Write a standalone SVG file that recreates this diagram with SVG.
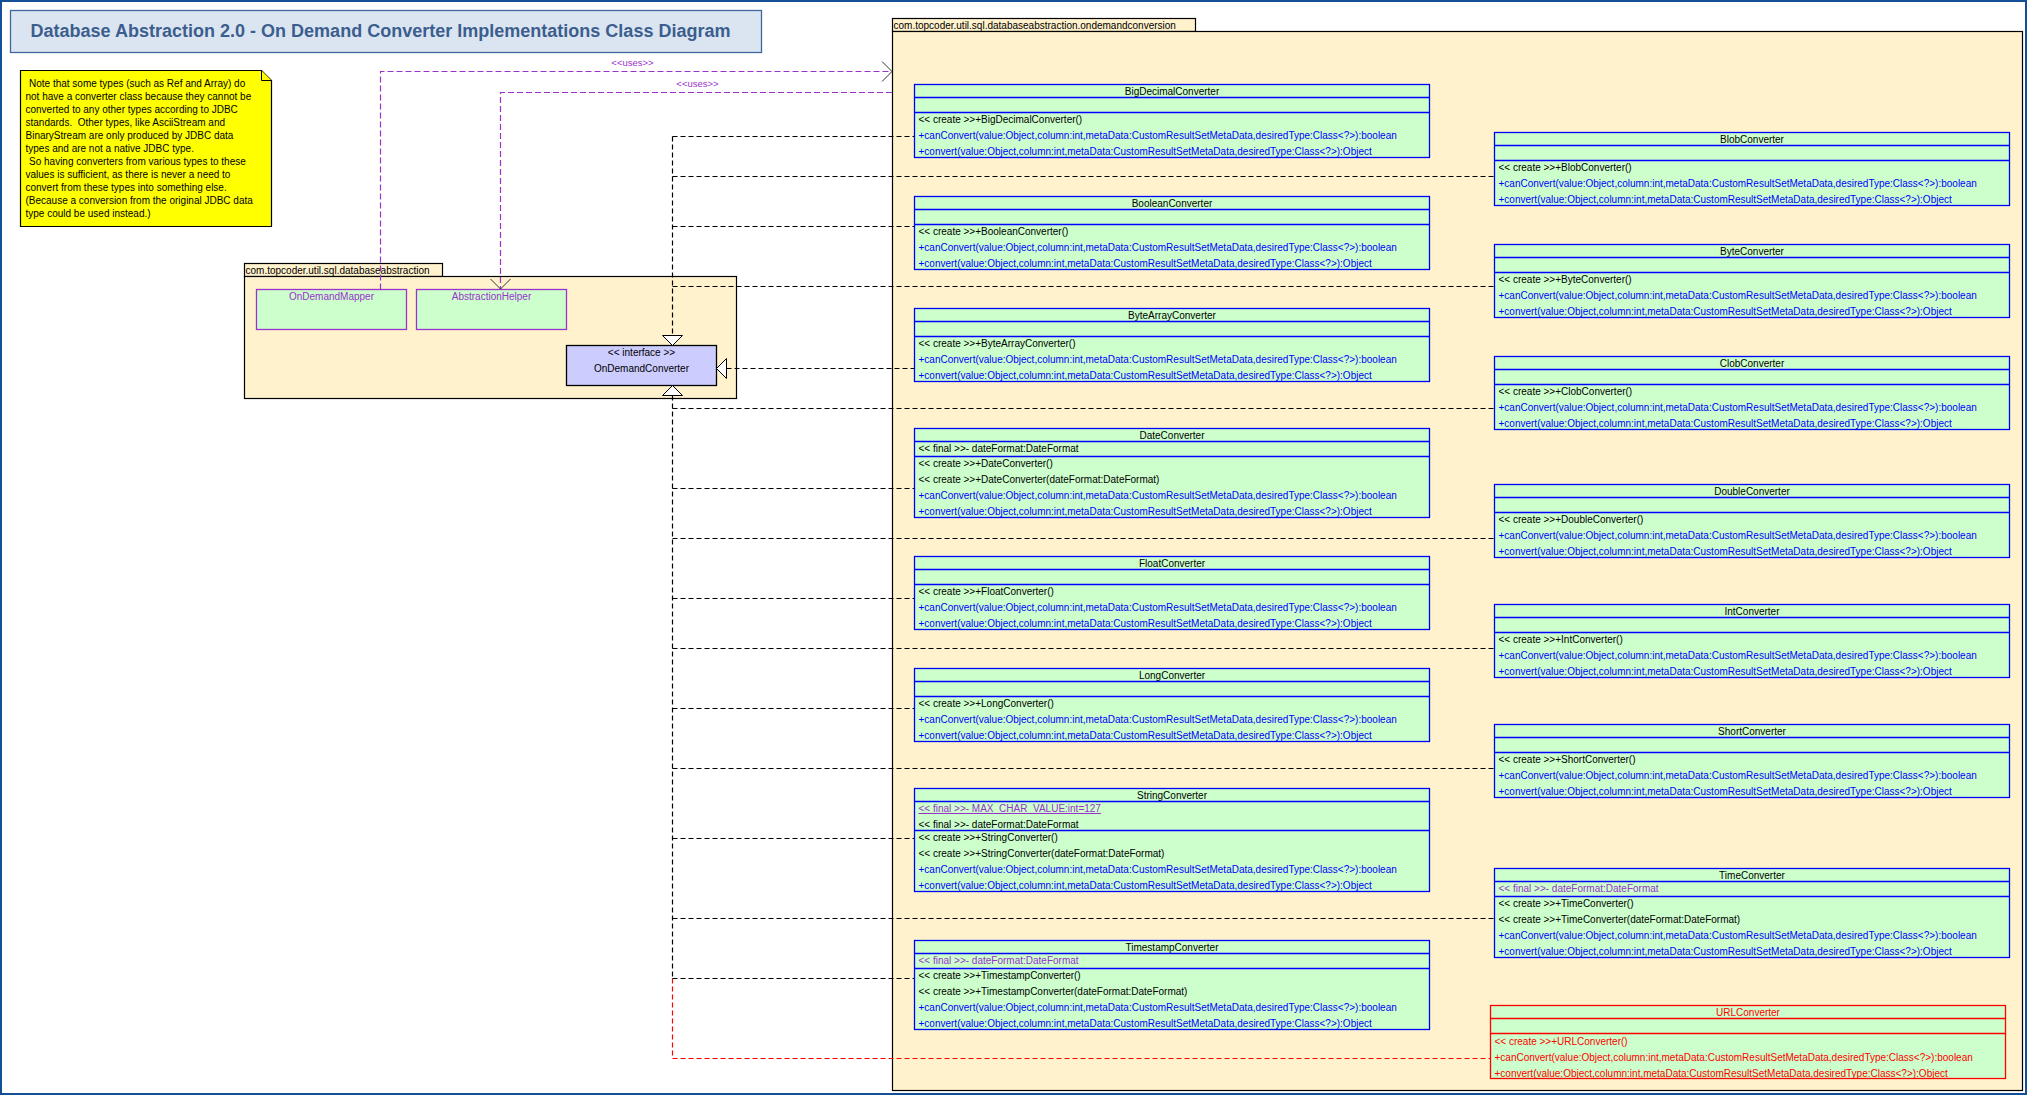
<svg xmlns="http://www.w3.org/2000/svg" width="2027" height="1095" viewBox="0 0 2027 1095">
<style>
text{font-family:"Liberation Sans",Arial,Helvetica,sans-serif;font-size:10px;fill:#000}
.nm{text-anchor:middle}
.op{fill:#0000ff}
.pu{fill:#9933cc}
.rd{fill:#ff0000}
.cls{fill:#ccffcc;stroke:#0000ff;stroke-width:1.3}
.clsr{fill:#ccffcc;stroke:#ff0000;stroke-width:1.3}
.sep{stroke:#0000ff;stroke-width:1.3}
.sepr{stroke:#ff0000;stroke-width:1.3}
.pkg{fill:#fff2cc;stroke:#000;stroke-width:1.2}
.dep{fill:none;stroke:#000;stroke-width:1.2;stroke-dasharray:5,3}
.depr{fill:none;stroke:#ff0000;stroke-width:1.2;stroke-dasharray:5,3}
.use{fill:none;stroke:#9933cc;stroke-width:1.2;stroke-dasharray:6,3}
.tri{fill:#fff;stroke:#000;stroke-width:1}
.open{fill:none;stroke:#333;stroke-width:1}
</style>
<rect x="1" y="1" width="2025" height="1093" fill="#ffffff" stroke="#134f96" stroke-width="2"/>

<g id="title">
<rect x="10.5" y="10.5" width="751" height="42" fill="#dbe5f1" stroke="#41689a" stroke-width="1.3"/>
<text x="30.5" y="36.5" textLength="700" lengthAdjust="spacingAndGlyphs" style="font-size:17.5px;font-weight:bold;fill:#3b5e8e">Database Abstraction 2.0 - On Demand Converter Implementations Class Diagram</text>
</g>

<g id="note">
<path d="M20.5,70.5 H261.5 L271.5,80.5 V226.5 H20.5 Z" fill="#ffff00" stroke="#000" stroke-width="1.2"/>
<path d="M261.5,70.5 V80.5 H271.5" fill="#ffff00" stroke="#000" stroke-width="1"/>
<g style="font-size:9.8px">
<text x="29" y="87">Note that some types (such as Ref and Array) do</text>
<text x="25.5" y="100">not have a converter class because they cannot be</text>
<text x="25.5" y="113">converted to any other types according to JDBC</text>
<text x="25.5" y="126">standards.&#160; Other types, like AsciiStream and</text>
<text x="25.5" y="139">BinaryStream are only produced by JDBC data</text>
<text x="25.5" y="152">types and are not a native JDBC type.</text>
<text x="29" y="165">So having converters from various types to these</text>
<text x="25.5" y="178">values is sufficient, as there is never a need to</text>
<text x="25.5" y="191">convert from these types into something else.</text>
<text x="25.5" y="204">(Because a conversion from the original JDBC data</text>
<text x="25.5" y="217">type could be used instead.)</text>
</g>
</g>

<g id="pkg-databaseabstraction">
<rect class="pkg" x="244.5" y="263.5" width="198" height="13"/>
<rect class="pkg" x="244.5" y="276.5" width="492" height="122"/>
<text x="245.5" y="273.5">com.topcoder.util.sql.databaseabstraction</text>
</g>

<g id="pkg-ondemandconversion">
<rect class="pkg" x="892.5" y="18.5" width="303" height="13"/>
<rect class="pkg" x="892.5" y="31.5" width="1130" height="1059"/>
<text x="893.5" y="28.5">com.topcoder.util.sql.databaseabstraction.ondemandconversion</text>
</g>

<g id="OnDemandMapper">
<rect x="256.5" y="289.5" width="150" height="40" fill="#ccffcc" stroke="#9933cc" stroke-width="1.3"/>
<text class="nm pu" x="331.5" y="300">OnDemandMapper</text>
</g>
<g id="AbstractionHelper">
<rect x="416.5" y="289.5" width="150" height="40" fill="#ccffcc" stroke="#9933cc" stroke-width="1.3"/>
<text class="nm pu" x="491.5" y="300">AbstractionHelper</text>
</g>
<g id="OnDemandConverter">
<rect x="566.5" y="345.5" width="150" height="40" fill="#ccccff" stroke="#000" stroke-width="1.3"/>
<text class="nm" x="641.5" y="355.5">&lt;&lt; interface &gt;&gt;</text>
<text class="nm" x="641.5" y="372">OnDemandConverter</text>
</g>

<g id="connectors">
<path class="use" d="M380.5,289.5 V71.5 H892"/>
<polyline class="open" points="882,61.5 892,71.5 882,81.5"/>
<text class="nm pu" x="632.5" y="66" style="font-size:9.5px">&lt;&lt;uses&gt;&gt;</text>
<path class="use" d="M892,92.5 H500.5 V289"/>
<polyline class="open" points="490.5,279 500.5,289 510.5,279"/>
<text class="nm pu" x="697.5" y="86.5" style="font-size:9.5px">&lt;&lt;uses&gt;&gt;</text>

<path class="dep" d="M672.5,136.5 V335.5"/>
<path class="dep" d="M672.5,395.5 V978.5"/>
<path class="depr" d="M672.5,978.5 V1058.5 H1490.5"/>
<polygon class="tri" points="662.5,335.5 682.5,335.5 672.5,345.5"/>
<polygon class="tri" points="662.5,395.5 682.5,395.5 672.5,385.5"/>
<polygon class="tri" points="726.5,358.5 726.5,378.5 716.5,368.5"/>

<path class="dep" d="M672.5,136.5 H914.5"/>
<path class="dep" d="M672.5,176.5 H1494.5"/>
<path class="dep" d="M672.5,226.5 H914.5"/>
<path class="dep" d="M672.5,286.5 H1494.5"/>
<path class="dep" d="M726.5,368.5 H914.5"/>
<path class="dep" d="M672.5,408.5 H1494.5"/>
<path class="dep" d="M672.5,488.5 H914.5"/>
<path class="dep" d="M672.5,538.5 H1494.5"/>
<path class="dep" d="M672.5,598.5 H914.5"/>
<path class="dep" d="M672.5,648.5 H1494.5"/>
<path class="dep" d="M672.5,708.5 H914.5"/>
<path class="dep" d="M672.5,768.5 H1494.5"/>
<path class="dep" d="M672.5,838.5 H914.5"/>
<path class="dep" d="M672.5,918.5 H1494.5"/>
<path class="dep" d="M672.5,978.5 H914.5"/>
</g>

<!-- Left column -->
<g id="BigDecimalConverter">
<rect class="cls" x="914.5" y="84.5" width="515" height="73"/>
<path class="sep" d="M914.5,97.5 H1429.5 M914.5,112.5 H1429.5"/>
<text class="nm" x="1172" y="94.5">BigDecimalConverter</text>
<text x="918.5" y="123">&lt;&lt; create &gt;&gt;+BigDecimalConverter()</text>
<text class="op" x="918.5" y="139">+canConvert(value:Object,column:int,metaData:CustomResultSetMetaData,desiredType:Class&lt;?&gt;):boolean</text>
<text class="op" x="918.5" y="155">+convert(value:Object,column:int,metaData:CustomResultSetMetaData,desiredType:Class&lt;?&gt;):Object</text>
</g>
<g id="BooleanConverter">
<rect class="cls" x="914.5" y="196.5" width="515" height="73"/>
<path class="sep" d="M914.5,209.5 H1429.5 M914.5,224.5 H1429.5"/>
<text class="nm" x="1172" y="206.5">BooleanConverter</text>
<text x="918.5" y="235">&lt;&lt; create &gt;&gt;+BooleanConverter()</text>
<text class="op" x="918.5" y="251">+canConvert(value:Object,column:int,metaData:CustomResultSetMetaData,desiredType:Class&lt;?&gt;):boolean</text>
<text class="op" x="918.5" y="267">+convert(value:Object,column:int,metaData:CustomResultSetMetaData,desiredType:Class&lt;?&gt;):Object</text>
</g>
<g id="ByteArrayConverter">
<rect class="cls" x="914.5" y="308.5" width="515" height="73"/>
<path class="sep" d="M914.5,321.5 H1429.5 M914.5,336.5 H1429.5"/>
<text class="nm" x="1172" y="318.5">ByteArrayConverter</text>
<text x="918.5" y="347">&lt;&lt; create &gt;&gt;+ByteArrayConverter()</text>
<text class="op" x="918.5" y="363">+canConvert(value:Object,column:int,metaData:CustomResultSetMetaData,desiredType:Class&lt;?&gt;):boolean</text>
<text class="op" x="918.5" y="379">+convert(value:Object,column:int,metaData:CustomResultSetMetaData,desiredType:Class&lt;?&gt;):Object</text>
</g>
<g id="DateConverter">
<rect class="cls" x="914.5" y="428.5" width="515" height="89"/>
<path class="sep" d="M914.5,441.5 H1429.5 M914.5,456.5 H1429.5"/>
<text class="nm" x="1172" y="438.5">DateConverter</text>
<text x="918.5" y="452">&lt;&lt; final &gt;&gt;- dateFormat:DateFormat</text>
<text x="918.5" y="467">&lt;&lt; create &gt;&gt;+DateConverter()</text>
<text x="918.5" y="483">&lt;&lt; create &gt;&gt;+DateConverter(dateFormat:DateFormat)</text>
<text class="op" x="918.5" y="499">+canConvert(value:Object,column:int,metaData:CustomResultSetMetaData,desiredType:Class&lt;?&gt;):boolean</text>
<text class="op" x="918.5" y="515">+convert(value:Object,column:int,metaData:CustomResultSetMetaData,desiredType:Class&lt;?&gt;):Object</text>
</g>
<g id="FloatConverter">
<rect class="cls" x="914.5" y="556.5" width="515" height="73"/>
<path class="sep" d="M914.5,569.5 H1429.5 M914.5,584.5 H1429.5"/>
<text class="nm" x="1172" y="566.5">FloatConverter</text>
<text x="918.5" y="595">&lt;&lt; create &gt;&gt;+FloatConverter()</text>
<text class="op" x="918.5" y="611">+canConvert(value:Object,column:int,metaData:CustomResultSetMetaData,desiredType:Class&lt;?&gt;):boolean</text>
<text class="op" x="918.5" y="627">+convert(value:Object,column:int,metaData:CustomResultSetMetaData,desiredType:Class&lt;?&gt;):Object</text>
</g>
<g id="LongConverter">
<rect class="cls" x="914.5" y="668.5" width="515" height="73"/>
<path class="sep" d="M914.5,681.5 H1429.5 M914.5,696.5 H1429.5"/>
<text class="nm" x="1172" y="678.5">LongConverter</text>
<text x="918.5" y="707">&lt;&lt; create &gt;&gt;+LongConverter()</text>
<text class="op" x="918.5" y="723">+canConvert(value:Object,column:int,metaData:CustomResultSetMetaData,desiredType:Class&lt;?&gt;):boolean</text>
<text class="op" x="918.5" y="739">+convert(value:Object,column:int,metaData:CustomResultSetMetaData,desiredType:Class&lt;?&gt;):Object</text>
</g>
<g id="StringConverter">
<rect class="cls" x="914.5" y="788.5" width="515" height="103"/>
<path class="sep" d="M914.5,801.5 H1429.5 M914.5,830.5 H1429.5"/>
<text class="nm" x="1172" y="798.5">StringConverter</text>
<text class="pu" x="918.5" y="812" text-decoration="underline">&lt;&lt; final &gt;&gt;- MAX_CHAR_VALUE:int=127</text>
<text x="918.5" y="828">&lt;&lt; final &gt;&gt;- dateFormat:DateFormat</text>
<text x="918.5" y="841">&lt;&lt; create &gt;&gt;+StringConverter()</text>
<text x="918.5" y="857">&lt;&lt; create &gt;&gt;+StringConverter(dateFormat:DateFormat)</text>
<text class="op" x="918.5" y="873">+canConvert(value:Object,column:int,metaData:CustomResultSetMetaData,desiredType:Class&lt;?&gt;):boolean</text>
<text class="op" x="918.5" y="889">+convert(value:Object,column:int,metaData:CustomResultSetMetaData,desiredType:Class&lt;?&gt;):Object</text>
</g>
<g id="TimestampConverter">
<rect class="cls" x="914.5" y="940.5" width="515" height="89"/>
<path class="sep" d="M914.5,953.5 H1429.5 M914.5,968.5 H1429.5"/>
<text class="nm" x="1172" y="950.5">TimestampConverter</text>
<text class="pu" x="918.5" y="964">&lt;&lt; final &gt;&gt;- dateFormat:DateFormat</text>
<text x="918.5" y="979">&lt;&lt; create &gt;&gt;+TimestampConverter()</text>
<text x="918.5" y="995">&lt;&lt; create &gt;&gt;+TimestampConverter(dateFormat:DateFormat)</text>
<text class="op" x="918.5" y="1011">+canConvert(value:Object,column:int,metaData:CustomResultSetMetaData,desiredType:Class&lt;?&gt;):boolean</text>
<text class="op" x="918.5" y="1027">+convert(value:Object,column:int,metaData:CustomResultSetMetaData,desiredType:Class&lt;?&gt;):Object</text>
</g>

<!-- Right column -->
<g id="BlobConverter">
<rect class="cls" x="1494.5" y="132.5" width="515" height="73"/>
<path class="sep" d="M1494.5,145.5 H2009.5 M1494.5,160.5 H2009.5"/>
<text class="nm" x="1752" y="142.5">BlobConverter</text>
<text x="1498.5" y="171">&lt;&lt; create &gt;&gt;+BlobConverter()</text>
<text class="op" x="1498.5" y="187">+canConvert(value:Object,column:int,metaData:CustomResultSetMetaData,desiredType:Class&lt;?&gt;):boolean</text>
<text class="op" x="1498.5" y="203">+convert(value:Object,column:int,metaData:CustomResultSetMetaData,desiredType:Class&lt;?&gt;):Object</text>
</g>
<g id="ByteConverter">
<rect class="cls" x="1494.5" y="244.5" width="515" height="73"/>
<path class="sep" d="M1494.5,257.5 H2009.5 M1494.5,272.5 H2009.5"/>
<text class="nm" x="1752" y="254.5">ByteConverter</text>
<text x="1498.5" y="283">&lt;&lt; create &gt;&gt;+ByteConverter()</text>
<text class="op" x="1498.5" y="299">+canConvert(value:Object,column:int,metaData:CustomResultSetMetaData,desiredType:Class&lt;?&gt;):boolean</text>
<text class="op" x="1498.5" y="315">+convert(value:Object,column:int,metaData:CustomResultSetMetaData,desiredType:Class&lt;?&gt;):Object</text>
</g>
<g id="ClobConverter">
<rect class="cls" x="1494.5" y="356.5" width="515" height="73"/>
<path class="sep" d="M1494.5,369.5 H2009.5 M1494.5,384.5 H2009.5"/>
<text class="nm" x="1752" y="366.5">ClobConverter</text>
<text x="1498.5" y="395">&lt;&lt; create &gt;&gt;+ClobConverter()</text>
<text class="op" x="1498.5" y="411">+canConvert(value:Object,column:int,metaData:CustomResultSetMetaData,desiredType:Class&lt;?&gt;):boolean</text>
<text class="op" x="1498.5" y="427">+convert(value:Object,column:int,metaData:CustomResultSetMetaData,desiredType:Class&lt;?&gt;):Object</text>
</g>
<g id="DoubleConverter">
<rect class="cls" x="1494.5" y="484.5" width="515" height="73"/>
<path class="sep" d="M1494.5,497.5 H2009.5 M1494.5,512.5 H2009.5"/>
<text class="nm" x="1752" y="494.5">DoubleConverter</text>
<text x="1498.5" y="523">&lt;&lt; create &gt;&gt;+DoubleConverter()</text>
<text class="op" x="1498.5" y="539">+canConvert(value:Object,column:int,metaData:CustomResultSetMetaData,desiredType:Class&lt;?&gt;):boolean</text>
<text class="op" x="1498.5" y="555">+convert(value:Object,column:int,metaData:CustomResultSetMetaData,desiredType:Class&lt;?&gt;):Object</text>
</g>
<g id="IntConverter">
<rect class="cls" x="1494.5" y="604.5" width="515" height="73"/>
<path class="sep" d="M1494.5,617.5 H2009.5 M1494.5,632.5 H2009.5"/>
<text class="nm" x="1752" y="614.5">IntConverter</text>
<text x="1498.5" y="643">&lt;&lt; create &gt;&gt;+IntConverter()</text>
<text class="op" x="1498.5" y="659">+canConvert(value:Object,column:int,metaData:CustomResultSetMetaData,desiredType:Class&lt;?&gt;):boolean</text>
<text class="op" x="1498.5" y="675">+convert(value:Object,column:int,metaData:CustomResultSetMetaData,desiredType:Class&lt;?&gt;):Object</text>
</g>
<g id="ShortConverter">
<rect class="cls" x="1494.5" y="724.5" width="515" height="73"/>
<path class="sep" d="M1494.5,737.5 H2009.5 M1494.5,752.5 H2009.5"/>
<text class="nm" x="1752" y="734.5">ShortConverter</text>
<text x="1498.5" y="763">&lt;&lt; create &gt;&gt;+ShortConverter()</text>
<text class="op" x="1498.5" y="779">+canConvert(value:Object,column:int,metaData:CustomResultSetMetaData,desiredType:Class&lt;?&gt;):boolean</text>
<text class="op" x="1498.5" y="795">+convert(value:Object,column:int,metaData:CustomResultSetMetaData,desiredType:Class&lt;?&gt;):Object</text>
</g>
<g id="TimeConverter">
<rect class="cls" x="1494.5" y="868.5" width="515" height="89"/>
<path class="sep" d="M1494.5,881.5 H2009.5 M1494.5,896.5 H2009.5"/>
<text class="nm" x="1752" y="878.5">TimeConverter</text>
<text class="pu" x="1498.5" y="892">&lt;&lt; final &gt;&gt;- dateFormat:DateFormat</text>
<text x="1498.5" y="907">&lt;&lt; create &gt;&gt;+TimeConverter()</text>
<text x="1498.5" y="923">&lt;&lt; create &gt;&gt;+TimeConverter(dateFormat:DateFormat)</text>
<text class="op" x="1498.5" y="939">+canConvert(value:Object,column:int,metaData:CustomResultSetMetaData,desiredType:Class&lt;?&gt;):boolean</text>
<text class="op" x="1498.5" y="955">+convert(value:Object,column:int,metaData:CustomResultSetMetaData,desiredType:Class&lt;?&gt;):Object</text>
</g>
<g id="URLConverter">
<rect class="clsr" x="1490.5" y="1005.5" width="515" height="73"/>
<path class="sepr" d="M1490.5,1018.5 H2005.5 M1490.5,1033.5 H2005.5"/>
<text class="nm rd" x="1748" y="1015.5">URLConverter</text>
<text class="rd" x="1494.5" y="1044.5">&lt;&lt; create &gt;&gt;+URLConverter()</text>
<text class="rd" x="1494.5" y="1060.5">+canConvert(value:Object,column:int,metaData:CustomResultSetMetaData,desiredType:Class&lt;?&gt;):boolean</text>
<text class="rd" x="1494.5" y="1076.5">+convert(value:Object,column:int,metaData:CustomResultSetMetaData,desiredType:Class&lt;?&gt;):Object</text>
</g>
</svg>
